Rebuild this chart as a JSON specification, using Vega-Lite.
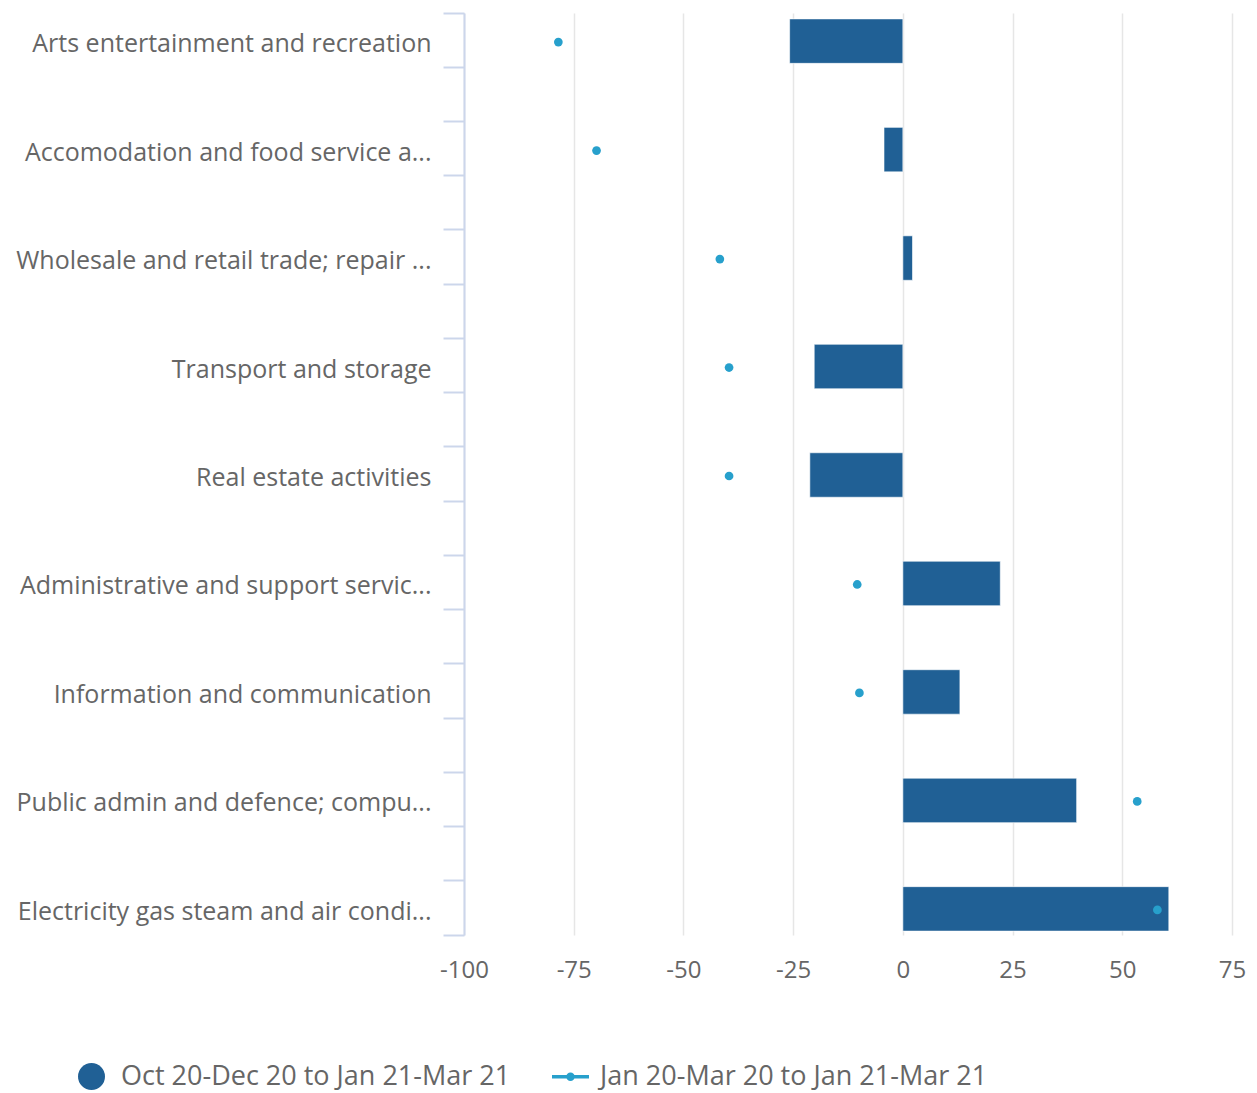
{
  "$schema": "https://vega.github.io/schema/vega-lite/v6.json",
  "width": 768,
  "height": 922,
  "autosize": {"type": "none"},
  "padding": {"left": 464, "top": 13, "right": 25, "bottom": 158},
  "config": {"view": {"stroke": null}, "font": "Open Sans"},
  "data": {
    "values": [
      {"sector": "Arts entertainment and recreation", "recent": -25.8, "annual": -78.5},
      {"sector": "Accomodation and food service a...", "recent": -4.3, "annual": -69.8},
      {"sector": "Wholesale and retail trade; repair ...", "recent": 2.2, "annual": -41.7},
      {"sector": "Transport and storage", "recent": -20.2, "annual": -39.6},
      {"sector": "Real estate activities", "recent": -21.2, "annual": -39.6},
      {"sector": "Administrative and support servic...", "recent": 22.2, "annual": -10.4},
      {"sector": "Information and communication", "recent": 13.0, "annual": -9.9},
      {"sector": "Public admin and defence; compu...", "recent": 39.6, "annual": 53.4},
      {"sector": "Electricity gas steam and air condi...", "recent": 60.6, "annual": 58.0}
    ]
  },
  "layer": [
    {
      "mark": {"type": "bar", "stroke": "#ffffff", "strokeWidth": 1, "strokeOpacity": 0.6, "height": {"band": 0.82}, "yOffset": 1},
      "encoding": {
        "y": {
          "field": "sector", "type": "nominal", "sort": null,
          "scale": {"paddingInner": 0.5, "paddingOuter": 0},
          "axis": {
            "title": null, "orient": "left", "bandPosition": 0, "grid": false,
            "domainColor": "#ccd6eb", "domainWidth": 2,
            "tickColor": "#ccd6eb", "tickWidth": 2, "tickSize": 21,
            "labelFontSize": 25, "labelColor": "#666666", "labelPadding": 12,
            "labelOffset": 4, "labelLimit": 600, "labelFont": "Open Sans"
          }
        },
        "x": {
          "field": "recent", "type": "quantitative",
          "scale": {"domain": [-100, 75], "nice": false, "zero": false},
          "axis": {
            "title": null, "values": [-100, -75, -50, -25, 0, 25, 50, 75],
            "labelExpr": "replace(datum.label, '−', '-')",
            "grid": true, "gridColor": "#e6e6e6", "gridWidth": 1.5,
            "domain": false, "ticks": false,
            "labelFontSize": 24, "labelColor": "#666666", "labelPadding": 23,
            "labelFont": "Open Sans", "labelFlush": false
          }
        },
        "color": {
          "datum": "Oct 20-Dec 20 to Jan 21-Mar 21",
          "type": "nominal",
          "scale": {
            "domain": ["Oct 20-Dec 20 to Jan 21-Mar 21", "Jan 20-Mar 20 to Jan 21-Mar 21"],
            "range": ["#206095", "#27a0cc"]
          },
          "legend": {
            "title": null, "orient": "none", "direction": "horizontal",
            "legendX": -391, "legendY": 1045, "padding": 0,
            "symbolSize": 1369, "symbolStrokeWidth": 0, "symbolOpacity": 1,
            "labelFontSize": 27, "labelColor": "#666666", "labelFont": "Open Sans",
            "labelOffset": 11, "columnPadding": 41, "labelLimit": 600,
            "encode": {
              "symbols": {
                "update": {
                  "shape": {"signal": "datum.value === 'Oct 20-Dec 20 to Jan 21-Mar 21' ? 'circle' : 'M-1,-0.09H1V0.09H-1Z M0.23,0A0.23,0.23 0 1 1 -0.23,0A0.23,0.23 0 1 1 0.23,0Z'"},
                  "size": {"signal": "datum.value === 'Oct 20-Dec 20 to Jan 21-Mar 21' ? 729 : 1369"}
                }
              }
            }
          }
        }
      }
    },
    {
      "mark": {"type": "point", "filled": true, "size": 76, "opacity": 1, "yOffset": 2},
      "encoding": {
        "y": {
          "field": "sector", "type": "nominal", "sort": null,
          "axis": {
            "title": null, "orient": "left", "bandPosition": 1, "labels": false, "domain": false, "grid": false,
            "tickColor": "#ccd6eb", "tickWidth": 2, "tickSize": 21
          }
        },
        "x": {"field": "annual", "type": "quantitative"},
        "color": {
          "datum": "Jan 20-Mar 20 to Jan 21-Mar 21", "type": "nominal",
          "legend": {
            "title": null, "orient": "none", "direction": "horizontal",
            "legendX": -391, "legendY": 1045, "padding": 0,
            "symbolSize": 1369, "symbolStrokeWidth": 0, "symbolOpacity": 1,
            "labelFontSize": 27, "labelColor": "#666666", "labelFont": "Open Sans",
            "labelOffset": 11, "columnPadding": 41, "labelLimit": 600,
            "encode": {
              "symbols": {
                "update": {
                  "shape": {"signal": "datum.value === 'Oct 20-Dec 20 to Jan 21-Mar 21' ? 'circle' : 'M-1,-0.09H1V0.09H-1Z M0.23,0A0.23,0.23 0 1 1 -0.23,0A0.23,0.23 0 1 1 0.23,0Z'"},
                  "size": {"signal": "datum.value === 'Oct 20-Dec 20 to Jan 21-Mar 21' ? 729 : 1369"}
                }
              }
            }
          }
        }
      }
    }
  ],
  "resolve": {"axis": {"y": "independent"}}
}
